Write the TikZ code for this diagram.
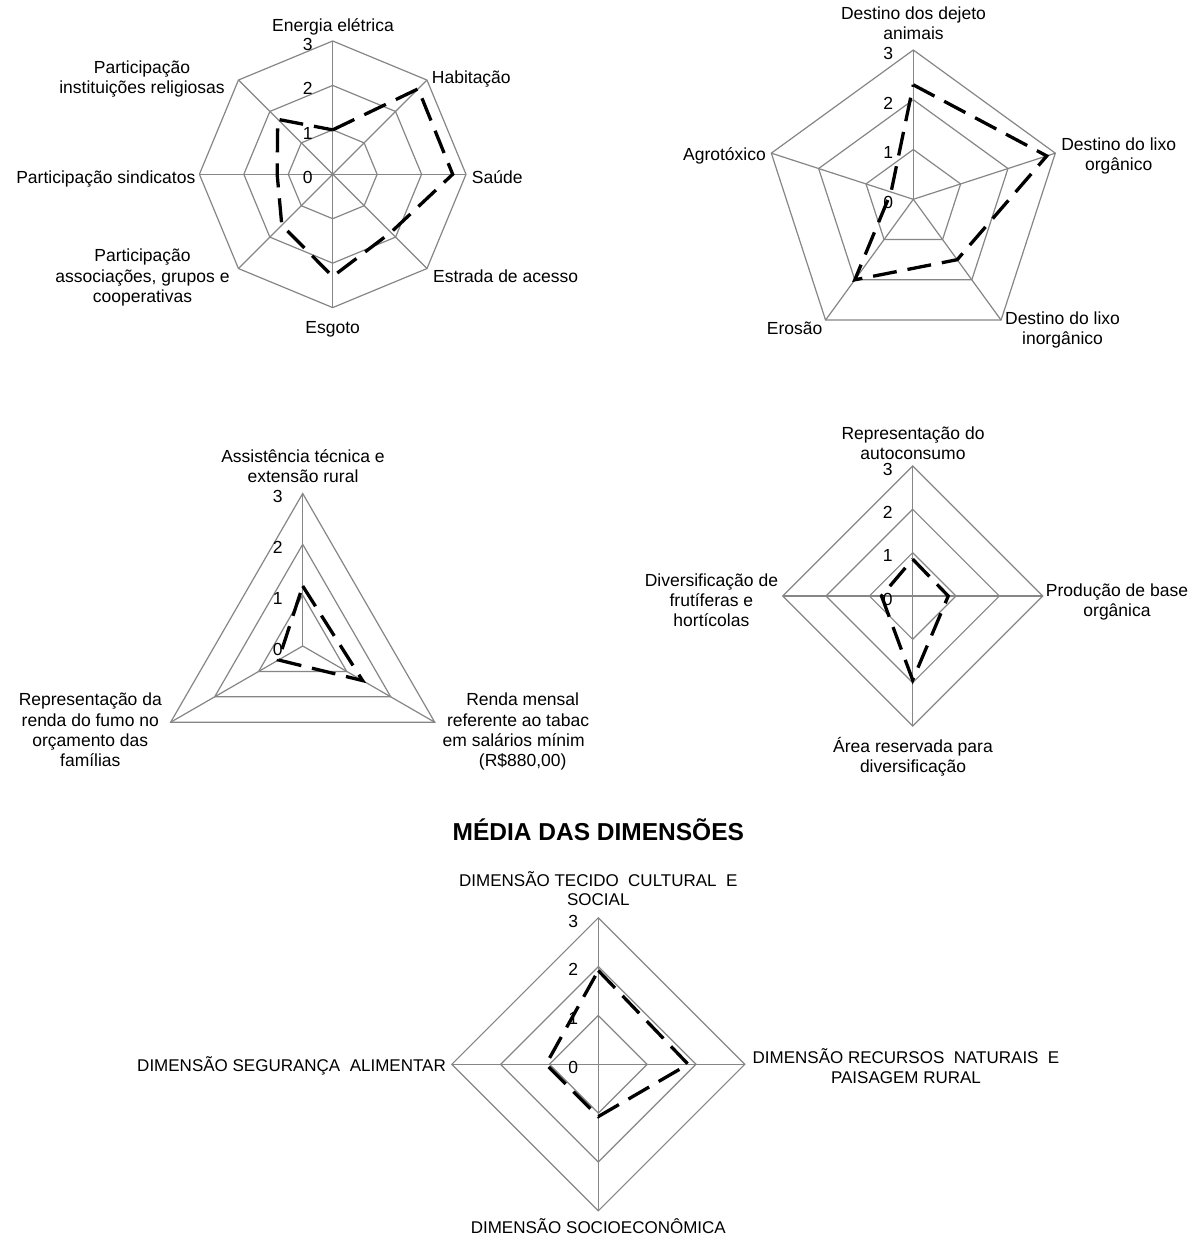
\documentclass[tikz,border=0pt]{standalone}
\usepackage{fontspec}
\setmainfont{Liberation Sans}
\definecolor{gridgray}{RGB}{134,134,134}
\tikzset{
  gridline/.style={draw=gridgray, line width=1.2pt},
  series/.style={draw=black, line width=3.3pt, dash pattern=on 24pt off 11pt, line join=miter, miter limit=3},
  lbl/.style={font=\fontsize{17.5}{20}\selectfont, inner sep=0pt, anchor=base},
  lblw/.style={lbl, anchor=base west},
  lble/.style={lbl, anchor=base east},
  dimlbl/.style={font=\fontsize{17}{19}\selectfont, inner sep=0pt, anchor=base},
  titlelbl/.style={font=\fontsize{24.5}{28}\selectfont\bfseries, inner sep=0pt, anchor=base},
}
% #1 name, #2 cx, #3 cy, #4 R, #5 n
\newcommand{\radargrid}[5]{%
  \coordinate (#1c) at (#2,#3);
  \foreach \lv in {1,2,3}{%
    \foreach \k in {1,...,#5}{%
      \coordinate (#1-\lv-\k) at ({#2+#4*\lv/3*sin(360*(\k-1)/#5)},{#3-#4*\lv/3*cos(360*(\k-1)/#5)});
    }
    \draw[gridline] (#1-\lv-1) \foreach \k in {2,...,#5}{ -- (#1-\lv-\k)} -- cycle;
  }
  \foreach \k in {1,...,#5}{\draw[gridline] (#1c) -- (#1-3-\k);}
  \foreach \lv in {0,...,3}{%
    \node[lbl] (#1-v\lv) at ({#2-25},{#3-#4*\lv/3+9.3}) {\lv};
  }
}
% #1 name, #2 cx, #3 cy, #4 R, #5 n, #6 values
\newcommand{\radardata}[6]{%
  \foreach \v [count=\k] in {#6}{%
    \coordinate (#1-d\k) at ({#2+#4*\v/3*sin(360*(\k-1)/#5)},{#3-#4*\v/3*cos(360*(\k-1)/#5)});
  }
  \draw[series] (#1-d1) \foreach \k in {2,...,#5}{ -- (#1-d\k)} -- cycle;
}
\begin{document}
\begin{tikzpicture}[x=1pt,y=-1pt]
\fill[white] (0,0) rectangle (1189,1238);
\useasboundingbox (0,0) rectangle (1189,1238);

% ---------- Chart 1 ----------
\radargrid{a}{332.7}{174.3}{133.3}{8}
\radardata{a}{332.7}{174.3}{133.3}{8}{1.0,2.72,2.7,1.85,2.3,1.62,1.25,1.75}
\node[lbl]  (a-l1) at (333,31.5) {Energia elétrica};
\node[lblw] (a-l2) at (431.7,84) {Habitação};
\node[lblw] (a-l3) at (471.7,183.4) {Saúde};
\node[lblw] (a-l4) at (432.9,283) {Estrada de acesso};
\node[lbl]  (a-l5) at (332.7,333) {Esgoto};
\node[lbl]  (a-l6a) at (142.5,262) {Participação};
\node[lbl]  (a-l6b) at (142.5,282.3) {associações, grupos e};
\node[lbl]  (a-l6c) at (142.5,302.6) {cooperativas};
\node[lble] (a-l7) at (195.5,183.4) {Participação sindicatos};
\node[lbl]  (a-l8a) at (142,73.5) {Participação};
\node[lbl]  (a-l8b) at (142,93.5) {instituições religiosas};

% ---------- Chart 2 ----------
\radargrid{b}{913.3}{199.3}{149.3}{5}
\radardata{b}{913.3}{199.3}{149.3}{5}{2.3,2.82,1.5,2.0,0.47}
\node[lbl]  (b-l1a) at (913.5,20) {Destino dos dejeto};
\node[lbl]  (b-l1b) at (913.5,40) {animais};
\node[lbl]  (b-l2a) at (1118.7,150.5) {Destino do lixo};
\node[lbl]  (b-l2b) at (1118.7,170.5) {orgânico};
\node[lbl]  (b-l3a) at (1062.5,324.5) {Destino do lixo};
\node[lbl]  (b-l3b) at (1062.5,344) {inorgânico};
\node[lble] (b-l4) at (822.5,334.5) {Erosão};
\node[lble] (b-l5) at (766,160.5) {Agrotóxico};

% ---------- Chart 3 ----------
\radargrid{c}{302.7}{646}{152.5}{3}
\radardata{c}{302.7}{646}{152.5}{3}{1.18,1.36,0.55}
\node[lbl]  (c-l1a) at (303,462) {Assistência técnica e};
\node[lbl]  (c-l1b) at (303,482) {extensão rural};
\node[lbl]  (c-l2a) at (522.7,705.8) {Renda mensal};
\node[lblw] (c-l2b) at (446.8,726) {referente ao tabac};
\node[lblw] (c-l2c) at (442.5,746.2) {em salários mínim};
\node[lbl]  (c-l2d) at (522.7,766.5) {(R\$880,00)};
\node[lbl]  (c-l3a) at (90.3,705.8) {Representação da};
\node[lbl]  (c-l3b) at (90.3,726) {renda do fumo no};
\node[lbl]  (c-l3c) at (90.3,746.2) {orçamento das};
\node[lbl]  (c-l3d) at (90.3,766.5) {famílias};

% ---------- Chart 4 ----------
\radargrid{d}{912.7}{596}{130}{4}
\radardata{d}{912.7}{596}{130}{4}{0.85,0.82,1.94,0.72}
\node[lbl]  (d-l1a) at (913,439) {Representação do};
\node[lbl]  (d-l1b) at (913,459) {autoconsumo};
\node[lbl]  (d-l2a) at (1117,596) {Produção de base};
\node[lbl]  (d-l2b) at (1117,616) {orgânica};
\node[lbl]  (d-l3a) at (913,752) {Área reservada para};
\node[lbl]  (d-l3b) at (913,772) {diversificação};
\node[lbl]  (d-l4a) at (711.4,586) {Diversificação de};
\node[lbl]  (d-l4b) at (711.4,606) {frutíferas e};
\node[lbl]  (d-l4c) at (711.4,626) {hortícolas};

% ---------- Chart 5 ----------
\node[titlelbl] (title) at (598.3,840) {MÉDIA DAS DIMENSÕES};
\radargrid{e}{598.3}{1064.3}{146.5}{4}
\radardata{e}{598.3}{1064.3}{146.5}{4}{1.92,1.84,1.07,1.07}
\node[dimlbl] (e-l1a) at (598.3,886) {DIMENSÃO TECIDO\ \ CULTURAL\ \ E};
\node[dimlbl] (e-l1b) at (598.3,905) {SOCIAL};
\node[dimlbl] (e-l2a) at (906,1063) {DIMENSÃO RECURSOS\ \ NATURAIS\ \ E};
\node[dimlbl] (e-l2b) at (906,1083) {PAISAGEM RURAL};
\node[dimlbl] (e-l3) at (598.3,1233) {DIMENSÃO SOCIOECONÔMICA};
\node[dimlbl, anchor=base east] (e-l4) at (446,1071) {DIMENSÃO SEGURANÇA\ \ ALIMENTAR};
\end{tikzpicture}
\end{document}
